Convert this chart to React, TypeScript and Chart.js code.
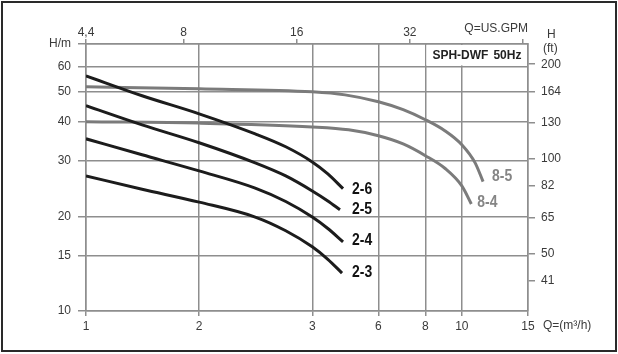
import React, { useEffect, useRef } from 'react';
import { Chart, registerables } from 'chart.js';

Chart.register(...registerables);

// Axis ticks
const flowTicks = [1, 2, 4, 6, 8, 10, 15];
const flowTickLabels = ['1', '2', '3', '6', '8', '10', '15'];
const gpmTicks = [4.4, 8, 16, 32, 64];
const gpmTickLabels = ['4,4', '8', '16', '32', ''];
const headMax = 70.7;
const headTicks = [10, 15, 20, 30, 40, 50, 60, headMax];
const headTickLabels = ['10', '15', '20', '30', '40', '50', '60', 'H/m'];
const feetTicks = [41, 50, 65, 82, 100, 130, 164, 200];

// Curves: Q (m3/h) and H (m)
const q26 = [1, 1.41, 2, 2.82, 3.4, 4, 4.4, 4.83];
const h26 = [56.0, 48.4, 42.4, 36.6, 33.3, 29.8, 27.3, 24.5];
const q25 = [1, 1.41, 2, 2.82, 3.4, 4, 4.4, 4.74];
const h25 = [45.0, 39.1, 34.3, 29.6, 26.9, 24.1, 22.4, 21.0];
const q24 = [1, 1.41, 2, 2.82, 3.4, 4, 4.4, 4.83];
const h24 = [35.3, 31.4, 27.9, 24.6, 22.3, 19.9, 18.3, 16.6];
const q23 = [1, 1.41, 2, 2.82, 3.4, 4, 4.4, 4.8];
const h23 = [26.9, 24.4, 22.2, 19.9, 18.0, 16.0, 14.6, 13.2];
const q85 = [1, 2, 4, 4.89, 6, 6.98, 8, 9.03, 10, 10.85, 11.39];
const h85 = [51.7, 50.9, 49.8, 48.7, 46.3, 43.7, 40.6, 37.4, 33.8, 29.6, 25.8];
const q84 = [1, 2, 4, 5, 6, 6.98, 8, 9.03, 10, 10.6];
const h84 = [40.0, 39.6, 38.5, 37.7, 36.1, 34.0, 31.2, 28.4, 25.0, 21.9];

const seriesNames = ['2-6', '2-5', '2-4', '2-3', '8-5', '8-4'];
const seriesQ = [q26, q25, q24, q23, q85, q84];
const seriesH = [h26, h25, h24, h23, h85, h84];

const FT_TO_M = 0.3048;
const GPM_PER_M3H = 4.4;

const BLACK = '#1c1c1c';
const GRAY_CURVE = '#7b7b7b';
const GRID = '#8e8e8e';
const TEXT = '#3a3a3a';
const FONT = '"Liberation Sans", Arial, sans-serif';

export default function App() {
  const canvasRef = useRef<HTMLCanvasElement | null>(null);

  useEffect(() => {
    const canvas = canvasRef.current;
    if (!canvas) return;

    const colors = [BLACK, BLACK, BLACK, BLACK, GRAY_CURVE, GRAY_CURVE];
    const labelOffsets = [
      [9, 1],
      [12, 0],
      [9, -2],
      [10, -1],
      [9, -5],
      [6, -2],
    ];

    const datasets = seriesNames.map((name, i) => ({
      label: name,
      data: seriesQ[i].map((q, j) => ({ x: q, y: seriesH[i][j] })),
      borderColor: colors[i],
      borderWidth: 3,
      pointRadius: 0,
      fill: false,
      cubicInterpolationMode: 'monotone' as const,
      xAxisID: 'x',
      yAxisID: 'y',
    }));

    const decorPlugin = {
      id: 'decor',
      beforeDatasetsDraw(chart: any) {
        const { ctx, chartArea, scales } = chart;
        const xs = scales.x;
        const ys = scales.y;
        const x0 = xs.getPixelForValue(8) + 1;
        const y1 = ys.getPixelForValue(60) - 1;
        ctx.save();
        ctx.fillStyle = '#ffffff';
        ctx.fillRect(x0, chartArea.top + 1, chartArea.right - 1 - x0, y1 - chartArea.top - 1);
        ctx.fillStyle = '#222';
        ctx.font = `bold 12px ${FONT}`;
        ctx.textBaseline = 'middle';
        ctx.textAlign = 'left';
        const ym = (chartArea.top + y1) / 2 + 1;
        ctx.fillText('SPH-DWF', x0 + 6, ym);
        ctx.fillText('50Hz', x0 + 67, ym);
        ctx.restore();
      },
      afterDatasetsDraw(chart: any) {
        const { ctx } = chart;
        chart.data.datasets.forEach((ds: any, i: number) => {
          const meta = chart.getDatasetMeta(i);
          const pt = meta.data[meta.data.length - 1];
          ctx.save();
          ctx.font = `bold 17px ${FONT}`;
          ctx.textBaseline = 'middle';
          ctx.textAlign = 'left';
          ctx.fillStyle = i < 4 ? '#111' : '#858585';
          ctx.translate(pt.x + labelOffsets[i][0], pt.y + labelOffsets[i][1]);
          ctx.scale(0.82, 1);
          ctx.fillText(ds.label, 0, 0);
          ctx.restore();
        });
      },
      afterDraw(chart: any) {
        const { ctx, chartArea } = chart;
        ctx.save();
        ctx.fillStyle = TEXT;
        ctx.font = `12px ${FONT}`;
        ctx.textBaseline = 'middle';
        ctx.textAlign = 'right';
        ctx.fillText('Q=US.GPM', chartArea.right, 29);
        ctx.textAlign = 'left';
        ctx.fillText('H', chartArea.right + 19, 35);
        ctx.fillText('(ft)', chartArea.right + 15, 49);
        ctx.fillText('Q=(m\u00B3/h)', chartArea.right + 15, 326);
        ctx.strokeStyle = '#2a2a2a';
        ctx.lineWidth = 2;
        ctx.strokeRect(2, 2, 614, 349);
        ctx.restore();
      },
    };

    const chart = new Chart(canvas, {
      type: 'line',
      data: { datasets },
      options: {
        responsive: false,
        animation: false,
        layout: { padding: 0 },
        plugins: {
          legend: { display: false },
          tooltip: { enabled: false },
        },
        scales: {
          x: {
            type: 'logarithmic',
            position: 'bottom',
            min: 1,
            max: 15,
            afterBuildTicks: (s: any) => {
              s.ticks = flowTicks.map((v) => ({ value: v }));
            },
            afterFit: (s: any) => {
              s.height = 43;
            },
            ticks: {
              autoSkip: false,
              maxRotation: 0,
              padding: 3,
              color: TEXT,
              font: { family: FONT, size: 12 },
              callback: (_v: any, i: number) => flowTickLabels[i],
            },
            grid: { color: GRID, lineWidth: 1.5, tickLength: 5 },
            border: { display: true, color: GRID, width: 1.5 },
          },
          xTop: {
            type: 'logarithmic',
            position: 'top',
            display: true,
            min: 1,
            max: 15,
            afterBuildTicks: (s: any) => {
              s.ticks = gpmTicks.map((v) => ({ value: v / GPM_PER_M3H }));
            },
            afterFit: (s: any) => {
              s.height = 44;
            },
            ticks: {
              autoSkip: false,
              maxRotation: 0,
              padding: -1,
              color: TEXT,
              font: { family: FONT, size: 12 },
              callback: (_v: any, i: number) => gpmTickLabels[i],
            },
            grid: { drawOnChartArea: false, color: GRID, lineWidth: 1.5, tickLength: 5 },
            border: { display: true, color: GRID, width: 1.5 },
          },
          y: {
            type: 'logarithmic',
            position: 'left',
            min: 10,
            max: headMax,
            afterBuildTicks: (s: any) => {
              s.ticks = headTicks.map((v) => ({ value: v }));
            },
            afterFit: (s: any) => {
              s.width = 86;
            },
            ticks: {
              autoSkip: false,
              padding: 7,
              color: TEXT,
              font: { family: FONT, size: 12 },
              callback: (_v: any, i: number) => headTickLabels[i],
            },
            grid: { color: GRID, lineWidth: 1.5, tickLength: 8 },
            border: { display: true, color: GRID, width: 1.5 },
          },
          yRight: {
            type: 'logarithmic',
            position: 'right',
            display: true,
            min: 10,
            max: headMax,
            afterBuildTicks: (s: any) => {
              s.ticks = feetTicks.map((v) => ({ value: v * FT_TO_M }));
            },
            afterFit: (s: any) => {
              s.width = 90;
            },
            ticks: {
              autoSkip: false,
              padding: 6,
              color: TEXT,
              font: { family: FONT, size: 12 },
              callback: (_v: any, i: number) => String(feetTicks[i]),
            },
            grid: { drawOnChartArea: false, color: GRID, lineWidth: 1.5, tickLength: 7 },
            border: { display: true, color: GRID, width: 1.5 },
          },
        },
      } as any,
      plugins: [decorPlugin],
    });

    return () => {
      chart.destroy();
    };
  }, []);

  return (
    <div style={{ position: 'fixed', left: 0, top: 0, width: 618, height: 354, background: '#fff' }}>
      <canvas ref={canvasRef} width={618} height={354} style={{ display: 'block' }} />
    </div>
  );
}
